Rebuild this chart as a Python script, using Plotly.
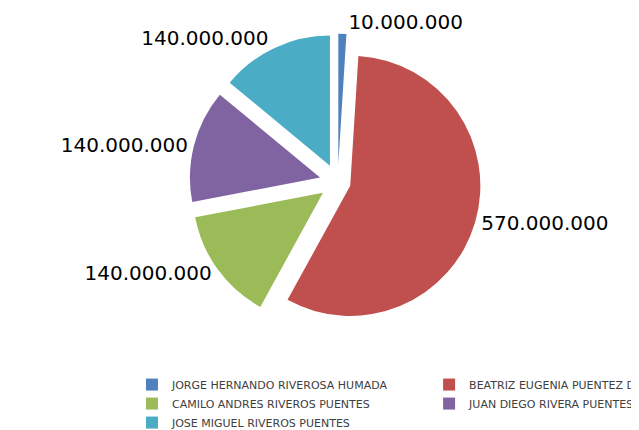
import plotly.graph_objects as go

names = [
    "JORGE HERNANDO RIVEROSA HUMADA",
    "BEATRIZ EUGENIA PUENTEZ DIAZ",
    "CAMILO ANDRES RIVEROS PUENTES",
    "JUAN DIEGO RIVERA PUENTES",
    "JOSE MIGUEL RIVEROS PUENTES",
]
values = [10000000, 570000000, 140000000, 140000000, 140000000]
value_labels = ["10.000.000", "570.000.000", "140.000.000", "140.000.000", "140.000.000"]
colors = ["#4F81BD", "#C0504D", "#9BBB59", "#8064A2", "#4BACC6"]

fig = go.Figure(go.Pie(
    labels=names,
    values=values,
    text=value_labels,
    texttemplate="%{text}",
    textposition="outside",
    textfont=dict(family="DejaVu Sans", size=20, color="#000000"),
    marker=dict(colors=colors, line=dict(width=0)),
    pull=[0.14, 0.1, 0.14, 0.14, 0.14],
    sort=False,
    direction="clockwise",
    rotation=0,
    domain=dict(x=[0.032, 1.0], y=[0.25, 0.94]),
    hoverinfo="label+value",
))

fig.update_layout(
    width=639, height=430,
    margin=dict(l=0, r=0, t=0, b=0, autoexpand=False),
    paper_bgcolor="white",
    showlegend=True,
    legend=dict(
        orientation="h",
        x=0.194, y=0.158, xanchor="left", yanchor="top",
        entrywidth=0.465, entrywidthmode="fraction",
        font=dict(family="DejaVu Sans", size=11, color="#404040"),
        itemwidth=30,
        tracegroupgap=0,
    ),
)

fig.write_html("out.html")
